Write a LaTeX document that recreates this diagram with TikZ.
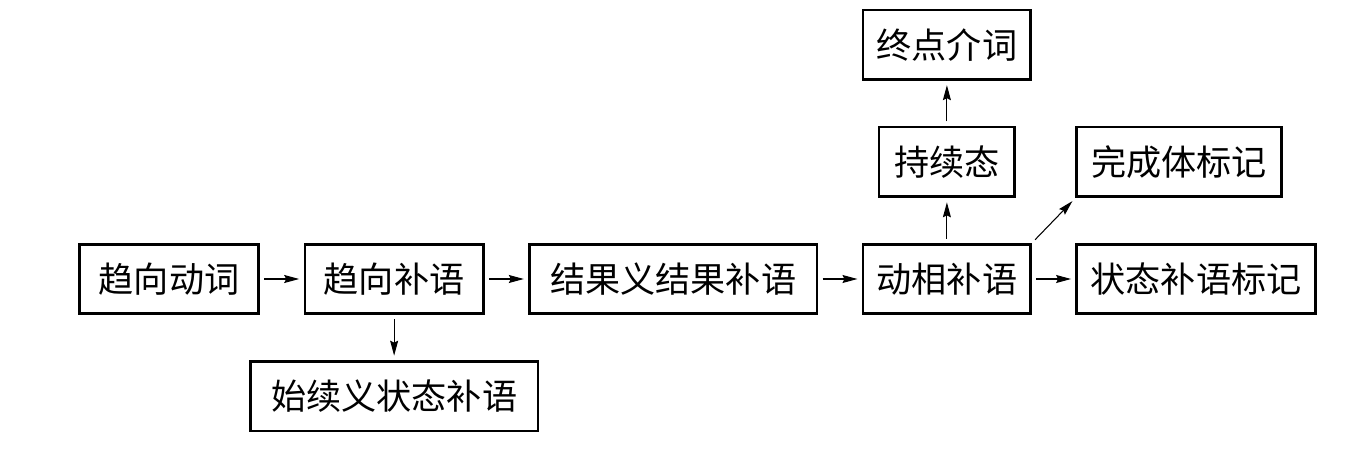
\documentclass[tikz,border=0pt]{standalone}
\usepackage{fontspec}
\newfontfamily\cjk{Noto Sans CJK SC}
\usepackage{tikz}
\usetikzlibrary{shapes,arrows.meta,positioning,calc}

\begin{document}
\begin{tikzpicture}[
        node distance=0.9cm and 0.87cm,
        box/.style={rectangle, draw=black, line width=1.5pt, minimum height=1.39cm, inner sep=0pt, font=\cjk\fontsize{20}{24}\selectfont},
        link/.style={-{Stealth[length=0.3cm, width=0.16cm, inset=0.04cm]}, line width=0.6pt, shorten >=2.5pt, shorten <=2.5pt}
    ]
        \useasboundingbox (0,0) rectangle (27.18,9);

        % Main chain
        \node[box, minimum width=3.59cm] (QXDC) at (3.38,3.42) {趋向动词};
        \node[box, minimum width=3.57cm, right=of QXDC] (QXBY) {趋向补语};
        \node[box, minimum width=5.75cm, right=of QXBY] (JGBY) {结果义结果补语};
        \node[box, minimum width=3.35cm, right=of JGBY] (DXBY) {动相补语};
        \node[box, minimum width=4.77cm, right=of DXBY] (ZTBJ) {状态补语标记};

        % Branches
        \node[box, minimum width=5.75cm, below=of QXBY] (SXZT) {始续义状态补语};
        \node[box, minimum width=2.71cm, above=of DXBY] (CXT) {持续态};
        \node[box, minimum width=3.35cm, above=of CXT] (ZDJC) {终点介词};
        \node[box, minimum width=4.09cm, above=of ZTBJ.north west, anchor=south west] (WCBJ) {完成体标记};

        % Arrows
        \draw[link] (QXDC) -- (QXBY);
        \draw[link] (QXBY) -- (JGBY);
        \draw[link] (JGBY) -- (DXBY);
        \draw[link] (DXBY) -- (ZTBJ);
        \draw[link] (QXBY) -- (SXZT);
        \draw[link] (DXBY) -- (CXT);
        \draw[link] (CXT) -- (ZDJC);
        \draw[link] (DXBY.north east) -- (WCBJ.south west);

    \end{tikzpicture}
\end{document}
